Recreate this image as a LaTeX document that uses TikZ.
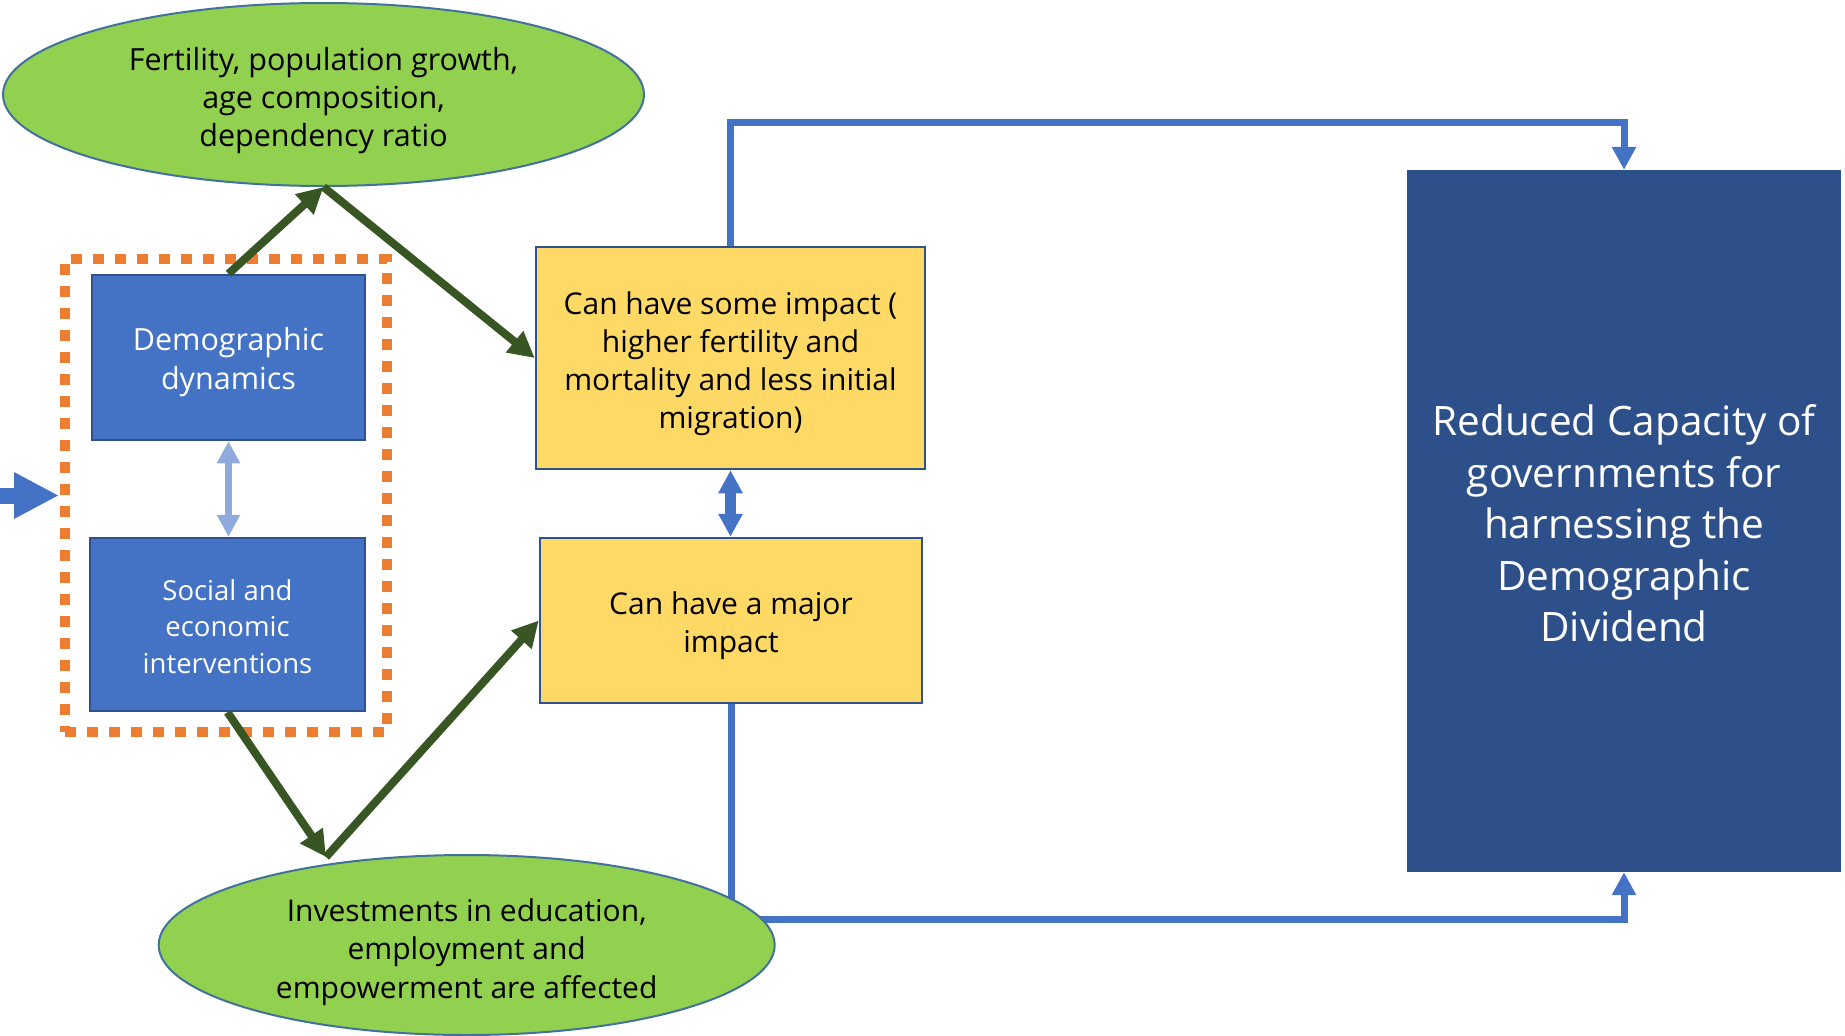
\documentclass[tikz,border=0pt]{standalone}
\usepackage{fontspec}
\setmainfont{Open Sans}
\usetikzlibrary{arrows.meta,shapes.geometric}
\definecolor{boxblue}{HTML}{4472C4}
\definecolor{boxedge}{HTML}{2F528F}
\definecolor{yellowfill}{HTML}{FFD966}
\definecolor{ellfill}{HTML}{92D050}
\definecolor{elledge}{HTML}{41719C}
\definecolor{darkfill}{HTML}{2E508A}
\definecolor{lightarrow}{HTML}{8FAADC}
\definecolor{greenarrow}{HTML}{375623}
\definecolor{dotorange}{HTML}{ED7D31}
\newcommand{\mytopfix}[1]{\rule{0pt}{#1}}
\begin{document}
\begin{tikzpicture}[x=1pt,y=-1pt,
  bluebox/.style={rectangle, draw=boxedge, line width=2.5pt, fill=boxblue, text=white, inner sep=0pt, align=center},
  yellowbox/.style={rectangle, draw=boxedge, line width=2.5pt, fill=yellowfill, text=black, inner sep=0pt, align=center, font=\fontsize{30}{38}\selectfont},
  ellbox/.style={ellipse, draw=elledge, line width=2pt, fill=ellfill, text=black, inner sep=0pt, align=center},
  darkbox/.style={rectangle, draw=none, fill=darkfill, text=white, inner sep=0pt, align=center, font=\fontsize{40.5}{51.5}\selectfont},
  grpbox/.style={rectangle, draw=dotorange, line width=10pt, dash pattern=on 11pt off 11pt, inner sep=0pt},
  conn/.style={draw=boxblue, line width=7pt, line join=miter, -{Triangle[length=23pt,width=23pt]}},
  garrow/.style={draw=greenarrow, line width=8pt, -{Triangle[length=26pt,width=26pt]}},
]
\useasboundingbox (0,0) rectangle (1845,1036);

% group box and blue boxes
\node[grpbox, minimum width=322pt, minimum height=473pt] (grp) at (226,495.5) {};
\node[bluebox, minimum width=273pt, minimum height=165pt, font=\fontsize{30.5}{39}\selectfont] (demo) at (228.5,357.5) {\mytopfix{33.2pt}Demographic\\dynamics};
\node[bluebox, minimum width=275pt, minimum height=173pt, font=\fontsize{27.5}{36.5}\selectfont] (soc) at (227.5,624.5) {\mytopfix{24.9pt}Social and\\economic\\interventions};

% yellow boxes
\node[yellowbox, minimum width=389pt, minimum height=222pt] (yell1) at (730.5,358) {\mytopfix{34.8pt}Can have some impact (\\higher fertility and\\mortality and less initial\\migration)};
\node[yellowbox, minimum width=382pt, minimum height=165pt] (yell2) at (731,620.5) {\mytopfix{32.8pt}Can have a major\\impact};

% dark box
\node[darkbox, minimum width=434pt, minimum height=702pt] (dark) at (1624,521) {\mytopfix{35.8pt}Reduced Capacity of\\governments for\\harnessing the\\Demographic\\Dividend};

% blue connectors
\coordinate (topturn) at (1000,122);
\coordinate (botturn) at (1000,919);
\draw[conn] (yell1.north) |- (topturn) -| (dark.north);
\draw[conn] (yell2.south) |- (botturn) -| (dark.south);

% ellipses
\node[ellbox, minimum width=641pt, minimum height=183pt, font=\fontsize{30.5}{38.3}\selectfont] (fert) at (323.5,94.5) {\mytopfix{35.2pt}Fertility, population growth,\\age composition,\\dependency ratio};
\node[ellbox, minimum width=616pt, minimum height=180pt, font=\fontsize{30}{38.3}\selectfont] (inv) at (466.7,945) {\mytopfix{36.8pt}Investments in education,\\employment and\\empowerment are affected};

% double arrows
\draw[draw=boxblue, line width=11pt, {Triangle[length=23pt,width=23pt]}-{Triangle[length=23pt,width=23pt]}] (yell1.south) -- (yell1.south |- yell2.north);
\draw[draw=lightarrow, line width=7pt, {Triangle[length=22pt,width=22pt]}-{Triangle[length=22pt,width=22pt]}] (demo.south) -- (demo.south |- soc.north);

% left input arrow
\coordinate (lstart) at (0,495.5);
\draw[draw=boxblue, line width=16pt, -{Triangle[length=44pt,width=47pt,line width=0pt]}, shorten >=2pt] (lstart) -- (grp.west);

% green arrows
\coordinate (invtip) at (326,857);
\draw[garrow] (demo.north) -- (fert.south);
\draw[garrow] (fert.south) -- (yell1.west);
\draw[garrow] (soc.south) -- (invtip);
\draw[garrow] (invtip) -- (yell2.west);
\end{tikzpicture}
\end{document}
